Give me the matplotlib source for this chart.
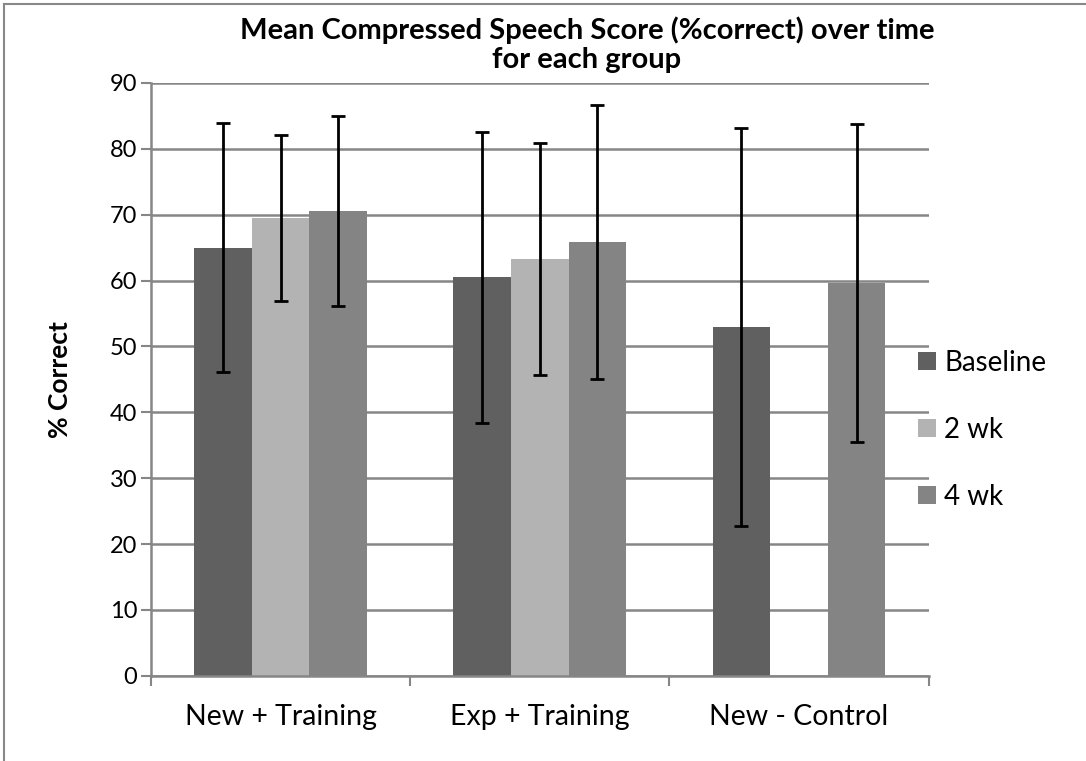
import matplotlib.pyplot as plt
import numpy as np
from matplotlib.lines import Line2D

plt.switch_backend('agg')
plt.rcParams['font.family'] = ['Lato', 'DejaVu Sans']

groups = ["New + Training", "Exp + Training", "New - Control"]
series = ["Baseline", "2 wk", "4 wk"]
means = [
    [65.0, 60.5, 53.0],
    [69.5, 63.3, np.nan],
    [70.6, 65.9, 59.6],
]
errors = [
    [18.9, 22.1, 30.2],
    [12.6, 17.6, np.nan],
    [14.4, 20.8, 24.1],
]
colors = ["#606060", "#b3b3b3", "#848484"]
grid_color = "#868686"


def main():
    fig = plt.figure(figsize=(10.86, 7.61), dpi=100)
    ax = fig.add_axes([0.139, 0.112, 0.716, 0.779])

    x = np.arange(len(groups))
    width = 1 / 4.5
    for i, name in enumerate(series):
        pos = x + (i - 1) * width
        vals = np.array(means[i])
        errs = np.array(errors[i])
        ok = ~np.isnan(vals)
        ax.bar(pos[ok], vals[ok], width, color=colors[i], label=name, zorder=2)
        ax.errorbar(pos[ok], vals[ok], yerr=errs[ok], fmt='none', ecolor='black',
                    elinewidth=2, capsize=5, capthick=2, zorder=3)

    ax.set_xlim(-0.5, 2.5)
    ax.set_ylim(0, 90)
    ax.set_yticks(np.arange(0, 91, 10))
    ax.yaxis.grid(True, color=grid_color, linewidth=1.8, zorder=0)
    ax.set_axisbelow(True)

    # category labels sit between the boundary ticks
    ax.set_xticks([-0.5, 0.5, 1.5, 2.5])
    ax.set_xticklabels([])
    ax.set_xticks(x, minor=True)
    ax.set_xticklabels(groups, minor=True, fontsize=20.5)
    ax.tick_params(axis='x', which='minor', length=0, pad=20)
    ax.tick_params(axis='x', which='major', length=7, width=1.5, color=grid_color)
    ax.tick_params(axis='y', length=7, width=1.5, color=grid_color, labelsize=17, pad=3)

    for side in ['top', 'right']:
        ax.spines[side].set_visible(False)
    for side in ['left', 'bottom']:
        ax.spines[side].set_color(grid_color)
        ax.spines[side].set_linewidth(1.8)

    ax.set_ylabel("% Correct", fontsize=19, fontweight='bold')
    ax.yaxis.set_label_coords(-0.1015, 0.5)
    # title is centred on the whole chart area (plot + legend), not on the axes
    fig.text(0.5405, 0.941, "Mean Compressed Speech Score (%correct) over time\nfor each group",
             ha='center', va='center', fontsize=21, fontweight='bold', linespacing=1.12)

    ax.legend(loc='center left', bbox_to_anchor=(0.986, 0.415), frameon=False,
              fontsize=20, labelspacing=1.47, handlelength=0.65, handleheight=0.65,
              handletextpad=0.3, borderpad=0, borderaxespad=0)

    # chart area border (left and top)
    fig.add_artist(Line2D([0.004, 0.004], [0, 0.995], color='#888888', lw=1.5))
    fig.add_artist(Line2D([0.004, 1.0], [0.995, 0.995], color='#888888', lw=1.5))

    fig.savefig("out.png", dpi=100)
    plt.close(fig)


if __name__ == '__main__':
    main()
